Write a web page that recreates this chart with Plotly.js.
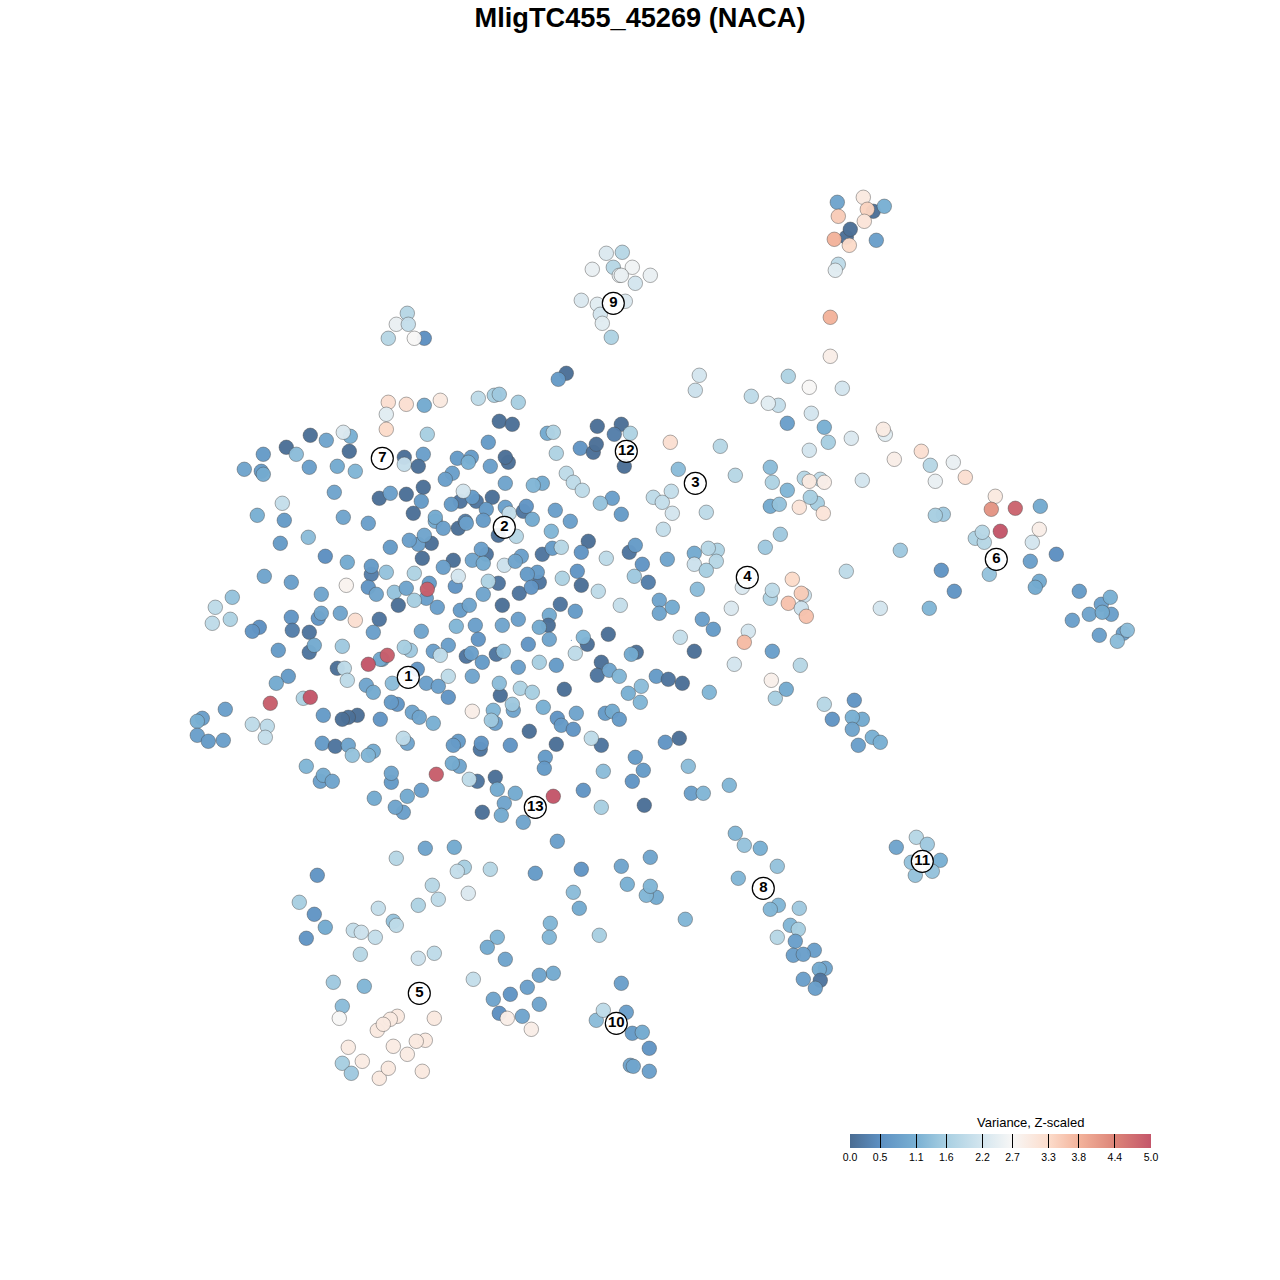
<!DOCTYPE html>
<html>
<head>
<meta charset="utf-8">
<script src="https://cdn.plot.ly/plotly-3.0.1.min.js"></script>
<style>html,body{margin:0;padding:0;background:#fff}#chart{width:1280px;height:1280px}</style>
</head>
<body>
<div id="chart"></div>
<script>
// Each list is flat: x, y, variance
const topRightCluster = [837,202,.9, 863,197,3.0, 873,211,.05, 884,206,1.1, 867,209,3.4, 838,216,3.5, 864,221,3.1, 846,237,.05, 850,229,.05, 834,239,3.8, 849,245,3.3, 876,240,.8, 838,264,1.9, 835,270,2.4, 830,317,3.8, 830,356,2.9];
const cluster9 = [606,253,2.3, 622,252,1.8, 592,269,2.5, 613,267,1.8, 632,267,2.6, 619,275,2.5, 621,275,2.5, 650,275,2.5, 635,283,2.2, 581,300,2.3, 597,304,2.4, 625,301,2.3, 600,314,2.2, 602,323,2.4, 611,337,1.7];
const smallCluster = [407,313,1.8, 396,324,2.5, 408,324,2.0, 388,338,1.8, 424,338,.5, 414,338,2.7];
const northEdge = [566,373,.05, 558,379,.7, 388,402,3.2, 386,414,2.4, 406,404,3.2, 440,400,3.0, 424,405,1.0, 386,429,3.3, 478,398,1.9, 494,395,1.6, 499,394,1.5, 518,402,1.6];
const westCloud = [310,435,.05, 286,447,.05, 349,451,.05, 326,440,.9, 350,436,1.1, 343,432,2.3, 263,454,.7, 244,469,.9, 261,471,.7, 263,474,1.0, 296,454,1.3, 309,467,.8, 337,466,1.0, 355,471,1.2, 334,492,.9, 257,515,1.1, 282,503,2.0, 284,520,.7, 343,517,.9, 368,523,.8, 308,537,1.3, 280,543,.7, 325,556,.5, 347,562,1.0, 264,576,.9, 291,582,.8, 346,585,2.8, 321,594,.9, 232,597,1.4, 215,607,1.9, 230,619,1.7, 212,623,1.9, 291,617,.6, 259,627,.5, 252,631,.6, 318,618,.6, 321,613,.9, 340,613,.9, 355,620,3.2, 292,630,.25, 309,632,.12, 309,652,.12, 314,645,1.0, 278,650,.7, 342,646,1.5, 337,668,.05, 344,668,1.9, 347,680,1.9, 288,676,.7, 276,683,1.0, 303,698,1.7, 225,709,.8, 202,718,.8, 197,721,1.1, 197,735,.8, 208,741,.7, 223,740,.8, 252,724,1.9, 267,726,1.9, 265,737,2.0, 323,715,.7, 357,715,.05, 348,717,.05, 342,719,.05, 322,743,.7, 335,746,.12, 348,745,.9, 352,755,1.4, 373,751,1.0, 368,755,1.2, 306,766,1.2, 320,781,.8, 323,775,1.0, 332,781,.9];
const centerNorth = [499,421,.05, 512,424,.05, 597,426,.05, 621,424,.05, 614,434,.25, 630,433,1.7, 547,433,1.0, 553,432,1.7, 488,442,.7, 427,434,1.6, 580,448,.6, 593,452,.05, 596,444,.05, 556,453,1.7, 508,462,.05, 505,457,.05, 490,466,.8, 457,458,.7, 471,457,.7, 468,462,1.1, 423,454,.8, 404,457,.05, 404,464,2.0, 418,466,.05, 624,466,.05, 670,442,3.2, 678,469,1.3, 566,473,1.9, 573,482,1.9, 582,490,1.9, 505,483,.9, 542,483,1.0, 533,485,1.2, 452,473,.8, 445,479,.8, 423,487,.05, 406,494,.05, 379,498,.05, 390,493,.8, 421,501,.7, 460,501,.12, 476,501,.12, 472,497,.7, 492,497,.05, 451,504,.7, 463,491,2.2, 486,509,.7, 505,507,.8, 509,513,2.0, 523,511,.12, 526,506,.6, 532,519,1.0, 555,510,.8, 570,521,.8, 612,498,.8, 600,503,1.4, 621,514,.7, 653,497,1.9, 662,502,2.0, 671,491,2.0, 672,513,2.2, 663,529,2.0];
const centerBand = [413,513,.05, 435,521,1.0, 435,517,1.0, 443,528,.8, 458,528,.05, 465,521,.25, 466,523,.8, 483,520,.7, 498,535,.05, 516,536,1.8, 551,531,1.2, 431,543,.05, 418,544,.8, 409,540,.8, 424,535,.9, 390,547,.7, 422,558,.05, 453,560,.05, 443,567,.8, 486,554,.12, 472,560,.9, 481,549,.8, 483,563,1.0, 504,565,2.1, 521,556,.8, 515,561,.9, 542,554,.12, 552,548,.7, 561,547,1.8, 588,541,.05, 581,552,.6, 629,552,.12, 635,545,.7, 606,558,1.9, 642,564,.6, 667,559,.9, 648,582,.25, 634,576,1.5, 371,574,.25, 371,566,.7, 386,572,1.4, 414,573,1.7, 368,587,.6, 376,594,.9, 394,592,1.4, 406,588,.9, 398,605,.05, 429,583,.7, 426,598,.8, 414,600,1.6, 437,607,.8, 455,586,.6, 458,576,2.2, 498,583,.12, 488,581,1.7, 519,593,.12, 483,594,.9, 502,605,.05, 460,610,.7, 469,605,.9, 539,582,.12, 537,572,.7, 527,574,.7, 531,587,.6, 562,578,1.7, 577,571,.6, 581,585,.05, 598,591,1.9, 620,605,2.0, 560,604,.12, 575,611,.7, 518,619,.8, 659,600,.9, 659,613,.9, 672,607,1.0, 549,615,1.0, 548,625,.05, 539,627,1.0, 475,625,.8, 456,626,1.2, 502,625,.9, 421,631,.9, 379,619,.12, 373,632,.8];
const centerSouth = [478,639,.6, 448,645,.8, 433,651,.8, 440,655,1.9, 410,650,1.5, 404,647,1.6, 466,656,.12, 471,653,.8, 496,654,.12, 503,651,1.3, 528,644,.6, 549,639,.9, 587,644,.05, 583,637,1.2, 608,634,.05, 575,653,1.9, 636,652,.05, 631,654,1.0, 680,637,2.0, 539,662,1.6, 518,667,.8, 556,665,.7, 601,662,.05, 597,675,.12, 609,670,.9, 619,676,1.2, 482,662,.7, 472,676,.9, 448,676,1.9, 417,669,.6, 392,683,1.3, 382,659,.9, 366,685,.9, 373,692,1.0, 380,659,1.0, 426,683,.8, 438,686,.8, 448,697,.6, 397,704,.6, 391,702,.7, 412,712,.9, 419,717,.9, 433,723,1.1, 380,719,.6, 500,695,.05, 499,683,1.3, 520,688,1.7, 532,692,1.6, 564,689,.05, 628,693,1.1, 641,686,1.3, 656,676,.7, 668,679,.12, 682,683,.05, 640,702,1.2, 543,707,1.1, 493,710,1.2, 513,710,.9, 512,704,1.5, 472,711,2.9, 495,723,.8, 491,720,1.5, 557,718,.6, 561,725,.7, 573,729,.6, 576,713,.9, 605,713,.7, 612,711,1.0, 619,719,.7, 529,731,.05, 601,745,.12, 591,738,1.9, 665,742,.6, 679,738,.05];
const southCloud = [556,744,.05, 510,745,.6, 480,749,.12, 481,743,.6, 458,741,.7, 453,745,.7, 407,743,.9, 403,738,1.9, 545,757,.7, 544,768,.7, 635,757,.7, 643,770,.7, 459,766,.9, 452,763,1.0, 603,771,1.3, 391,782,.7, 391,773,.9, 374,798,1.0, 407,796,1.0, 421,790,.8, 403,812,.8, 395,807,.9, 477,781,.12, 469,779,1.9, 495,777,.05, 497,789,1.0, 515,793,1.0, 504,803,.9, 501,815,1.0, 482,812,.05, 523,822,.9, 583,790,.6, 601,807,1.6, 632,781,.6, 644,805,.05, 688,766,1.3, 691,793,.8, 703,793,1.2, 729,785,1.2];
const southWest = [557,841,.8, 454,847,1.0, 425,848,.9, 396,858,1.8, 650,857,.9, 317,875,.6, 299,902,1.6, 314,914,.6, 325,927,1.0, 306,938,.6, 353,930,2.0, 361,932,2.1, 375,937,2.0, 378,908,2.0, 393,921,1.4, 396,925,1.9, 360,954,1.8, 418,905,1.7, 432,885,1.8, 438,899,1.9, 464,867,1.6, 457,871,2.0, 490,869,1.8, 468,893,2.3, 418,958,2.1, 434,953,1.9, 535,873,.7, 581,869,.6, 621,866,.9, 627,884,1.1, 656,897,1.0, 646,895,1.2, 650,886,1.2, 573,892,1.3, 579,908,1.0, 685,919,1.2, 550,923,1.2, 549,937,1.2, 599,935,1.6, 497,937,1.2, 487,947,1.0, 505,959,.9];
const cluster5 = [333,982,1.5, 364,986,1.2, 342,1006,1.3, 339,1018,2.7, 397,1016,3.0, 390,1019,3.0, 377,1030,3.0, 383,1024,3.0, 434,1018,3.0, 348,1047,2.95, 342,1063,1.6, 351,1073,1.5, 362,1061,2.95, 379,1078,3.0, 388,1068,3.0, 422,1071,3.0, 393,1046,2.95, 407,1054,2.95, 425,1040,3.0, 416,1041,3.0];
const cluster10 = [473,979,2.0, 553,973,1.0, 539,975,.9, 527,987,.8, 510,994,.6, 493,999,.9, 539,1004,.9, 499,1013,.5, 507,1018,2.9, 522,1016,.9, 531,1029,2.9, 621,983,.8, 626,1012,.8, 596,1020,1.3, 603,1010,1.9, 632,1033,.7, 642,1032,1.0, 649,1048,.6, 630,1065,.9, 633,1066,.9, 649,1071,.8];
const eastCloud = [699,375,2.2, 695,390,2.1, 788,376,1.7, 809,387,2.7, 842,388,2.2, 751,396,1.9, 778,405,2.0, 768,403,2.4, 811,413,2.2, 787,423,.8, 824,427,1.1, 851,438,2.3, 828,442,1.6, 885,434,2.4, 883,429,2.95, 809,450,2.2, 720,446,1.8, 894,459,2.9, 921,451,3.2, 953,462,2.5, 930,465,1.8, 965,477,3.2, 935,481,2.5, 862,480,2.2, 735,475,1.8, 770,467,1.3, 772,482,1.7, 804,478,1.8, 820,479,1.9, 809,481,3.0, 824,482,2.9, 787,490,1.2, 817,503,1.6, 810,497,1.6, 799,507,3.1, 823,513,3.1, 770,506,1.0, 779,504,1.4, 706,512,1.9, 780,534,1.5, 765,547,1.5, 717,550,1.7, 708,548,1.8, 694,553,1.0, 694,564,2.1, 716,561,1.8, 706,570,1.6, 697,589,1.3, 742,587,2.3, 900,550,1.5, 846,571,1.9, 941,570,.6, 954,591,.6, 929,608,1.2, 880,608,2.2, 792,579,3.3, 804,595,2.1, 801,593,3.5, 770,598,1.7, 772,590,1.9, 788,603,3.6, 801,608,2.1, 806,616,3.6, 731,608,2.3, 702,619,.8, 713,629,.7, 748,631,2.2, 744,642,3.7, 694,651,.05, 772,651,.8, 734,664,2.2, 800,665,1.8, 771,680,2.85, 775,698,1.6, 786,689,1.0, 709,692,1.2, 824,704,1.8];
const farEast = [995,496,3.0, 991,509,4.2, 1040,506,1.0, 943,514,1.5, 935,515,1.6, 1039,529,2.9, 1032,542,2.2, 975,538,1.7, 984,542,1.8, 982,532,1.8, 1056,554,.5, 1030,561,.8, 989,574,1.4, 1039,581,1.0, 1035,587,1.0, 1079,591,.7, 1101,604,.8, 1110,597,1.1, 1089,614,.9, 1111,614,.8, 1102,612,1.0, 1072,620,.8, 1099,635,.8, 1123,633,.8, 1127,630,1.3, 1117,641,1.3];
const southEast = [854,700,.6, 832,719,.6, 862,719,1.0, 852,717,1.1, 852,729,.9, 872,737,1.1, 880,742,1.1, 858,745,.8, 735,833,1.2, 744,845,1.4, 760,848,1.1, 777,866,1.4, 738,878,1.2, 778,905,1.2, 770,909,1.2, 799,908,1.5, 790,925,1.2, 798,929,1.6, 777,937,1.8, 795,941,.8, 814,950,.8, 793,955,.8, 803,954,.8, 825,968,.9, 819,969,1.0, 820,980,.12, 803,979,.8, 815,988,.8];
const cluster11 = [896,847,.9, 916,837,1.8, 927,844,1.5, 940,860,1.1, 932,871,1.4, 915,875,1.4, 911,862,1.4];
const redCells = [368,664,5, 387,655,4.9, 427,589,4.9, 310,697,5, 270,703,4.9, 436,774,4.9, 553,796,5, 1015,508,4.8, 1000,531,5];

const clusterIds = ["1","2","3","4","5","6","7","8","9","10","11","12","13"];
const clusterX = [408,504,695,747,419,996,382,763,613,616,922,626,535];
const clusterY = [677,527,483,577,993,559,458,888,303,1023,861,451,807];
const tinyDotX = [571];
const tinyDotY = [640];

const varianceTicks = [0,.5,1.1,1.6,2.2,2.7,3.3,3.8,4.4,5];
const varianceLabels = ["0.0","0.5","1.1","1.6","2.2","2.7","3.3","3.8","4.4","5.0"];
const varianceColors = ["#4a6c92","#5d90c2","#79b0d3","#a8cfe2","#d4e6ef","#f8f7f6","#fcdccb","#f3b39b","#dc8478","#c4566a"];

const groups = [topRightCluster, cluster9, smallCluster, northEdge, westCloud, centerNorth, centerBand, centerSouth, southCloud, southWest, cluster5, cluster10, eastCloud, farEast, southEast, cluster11, redCells];
const xs = [], ys = [], vs = [];
groups.forEach(g => { for (let i = 0; i < g.length; i += 3) { xs.push(g[i]); ys.push(g[i+1]); vs.push(g[i+2]); } });

const colorscale = varianceTicks.map((t, i) => [t / 5, varianceColors[i]]);
const traces = [
  {type:"scatter", mode:"markers", x:xs, y:ys, hoverinfo:"skip", showlegend:false,
   marker:{size:14.5, color:vs, cmin:0, cmax:5, colorscale:colorscale, opacity:0.97,
     line:{width:1, color:"rgba(70,70,70,0.45)"},
     colorbar:{orientation:"h", lenmode:"pixels", len:301, thicknessmode:"pixels", thickness:14,
       x:850/1280, xanchor:"left", y:1-1134/1280, yanchor:"top", xpad:0, ypad:0,
       outlinewidth:0, ticks:"inside", ticklen:14, tickwidth:1, tickcolor:"#000",
       tickmode:"array", tickvals:varianceTicks, ticktext:varianceLabels,
       tickfont:{family:"Liberation Sans, Arial, sans-serif", size:10.5, color:"#000"}}}},
  {type:"scatter", mode:"markers", x:tinyDotX, y:tinyDotY, hoverinfo:"skip", showlegend:false,
   marker:{size:1, color:"#3f6fa0"}},
  {type:"scatter", mode:"markers+text", x:clusterX, y:clusterY, text:clusterIds, textposition:"middle center",
   hoverinfo:"skip", showlegend:false, cliponaxis:false,
   textfont:{family:"Liberation Sans, Arial, sans-serif", size:15, color:"#000", weight:700},
   marker:{size:22, color:"rgba(255,255,255,0.92)", line:{width:1.2, color:"#000"}}}
];
const layout = {
  width:1280, height:1280, margin:{l:0,r:0,t:0,b:0}, paper_bgcolor:"#fff", plot_bgcolor:"#fff",
  title:{text:"<b>MligTC455_45269 (NACA)</b>", x:0.5, xanchor:"center", y:1-17/1280, yanchor:"middle",
         font:{family:"Liberation Sans, Arial, sans-serif", size:27.2, color:"#000"}},
  xaxis:{range:[-0.3,1279.7], visible:false, fixedrange:true},
  yaxis:{range:[1279.7,-0.3], visible:false, fixedrange:true},
  annotations:[{text:"Variance, Z-scaled", xref:"paper", yref:"paper", x:1030.5/1280, y:1-1122/1280,
    xanchor:"center", yanchor:"middle", showarrow:false,
    font:{family:"Liberation Sans, Arial, sans-serif", size:13, color:"#000"}}]
};
Plotly.newPlot("chart", traces, layout, {displayModeBar:false, staticPlot:true});
</script>
</body>
</html>
